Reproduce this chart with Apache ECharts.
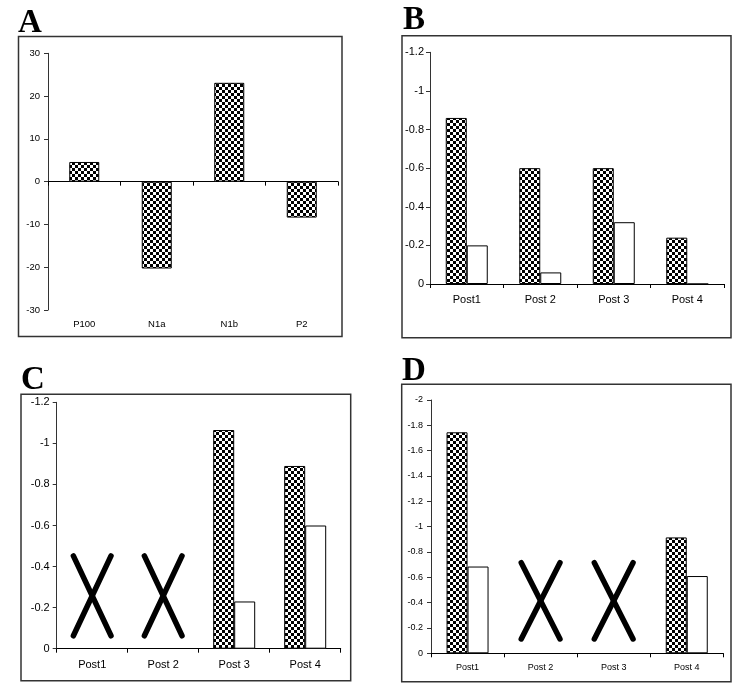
<!DOCTYPE html>
<html><head><meta charset="utf-8">
<script src="https://cdn.jsdelivr.net/npm/echarts@6/dist/echarts.min.js"></script>
<style>html,body{margin:0;padding:0;background:#fff}#c{width:740px;height:690px}</style>
</head><body><div id="c"></div>
<script>
// ---- data ----
const catsA = ['P100', 'N1a', 'N1b', 'P2'];
const valsA = [4.6, -20.3, 23.1, -8.4];
const catsB = ['Post1', 'Post 2', 'Post 3', 'Post 4'];
const catsC = ['Post1', 'Post 2', 'Post 3', 'Post 4'];
const catsD = ['Post1', 'Post 2', 'Post 3', 'Post 4'];
const hatchB = [-0.86, -0.6, -0.6, -0.24];
const whiteB = [-0.2, -0.06, -0.32, 0];
const hatchC = ['-', '-', -1.065, -0.89];
const whiteC = ['-', '-', -0.23, -0.6];
const crossC = [[0, -0.063, -0.452], [1, -0.063, -0.452]];   // [category, low, high]
const hatchD = [-1.745, '-', '-', -0.915];
const whiteD = [-0.685, '-', '-', -0.61];
const crossD = [[1, -0.113, -0.715], [2, -0.113, -0.715]];
const panelLetters = ['A', 'B', 'C', 'D'];

// ---- checkered pattern ----
function checker() {
  const c = document.createElement('canvas');
  c.width = 6; c.height = 6;
  const g = c.getContext('2d');
  g.fillStyle = '#fff'; g.fillRect(0, 0, 6, 6);
  g.fillStyle = '#000'; g.fillRect(0, 0, 3, 3); g.fillRect(3, 3, 3, 3);
  return c;
}
const hatchFill = { image: checker(), repeat: 'repeat' };

const FONT = 'Liberation Sans';
const grids = [
  { left: 48, top: 53.3, width: 290, height: 256.7 },
  { left: 430, top: 52.3, width: 294, height: 231.7 },
  { left: 56.7, top: 402.3, width: 284, height: 246.4 },
  { left: 431, top: 400, width: 292.3, height: 253.3 }
];
const fs = [9.5, 11, 11, 9];

function catAxis(i, data, margin) {
  return {
    type: 'category', gridIndex: i, data: data,
    axisLine: { onZero: false, lineStyle: { color: '#000', width: 1 } },
    axisTick: { show: true, length: 4, lineStyle: { color: '#000' } },
    axisLabel: { color: '#000', fontFamily: FONT, fontSize: fs[i], margin: margin },
    splitLine: { show: false }
  };
}
function valAxis(i, min, max, interval, inverse, margin) {
  return {
    type: 'value', gridIndex: i, min: min, max: max, interval: interval, inverse: inverse,
    axisLine: { show: true, lineStyle: { color: '#333', width: 1 } },
    axisTick: { show: true, length: 4, lineStyle: { color: '#333' } },
    axisLabel: { color: '#000', fontFamily: FONT, fontSize: fs[i], margin: margin },
    splitLine: { show: false }
  };
}

const xAxes = [
  Object.assign(catAxis(0, catsA, 8), { axisLine: { onZero: true, lineStyle: { color: '#000' } }, axisLabel: { show: false } }),
  catAxis(1, catsB, 10),
  catAxis(2, catsC, 11),
  catAxis(3, catsD, 10),
  { type: 'category', gridIndex: 0, data: catsA, position: 'bottom',
    axisLine: { show: false, onZero: false }, axisTick: { show: false },
    axisLabel: { color: '#000', fontFamily: FONT, fontSize: fs[0], margin: 9 } }
];
const yAxes = [
  valAxis(0, -30, 30, 10, false, 8),
  valAxis(1, -1.2, 0, 0.2, true, 6),
  valAxis(2, -1.2, 0, 0.2, true, 7),
  valAxis(3, -2, 0, 0.2, true, 8)
];

const hatchStyle = { color: hatchFill, borderColor: '#000', borderWidth: 1 };
const whiteStyle = { color: '#fff', borderColor: '#000', borderWidth: 1 };

function crossSeries(i, data) {
  return {
    type: 'custom', xAxisIndex: i, yAxisIndex: i, data: data, silent: true,
    renderItem: function (params, api) {
      const c = api.value(0);
      const lo = api.coord([c, api.value(1)]);
      const hi = api.coord([c, api.value(2)]);
      const half = api.size([1, 0])[0] * 0.265;
      const st = { stroke: '#000', lineWidth: 5.5, lineCap: 'round' };
      return { type: 'group', children: [
        { type: 'line', shape: { x1: lo[0] - half, y1: lo[1], x2: hi[0] + half, y2: hi[1] }, style: st },
        { type: 'line', shape: { x1: lo[0] + half, y1: lo[1], x2: hi[0] - half, y2: hi[1] }, style: st }
      ] };
    }
  };
}

const frames = [
  { x: 18.5, y: 36.5, w: 323.5, h: 300 },
  { x: 402, y: 35.7, w: 329, h: 302 },
  { x: 21, y: 394.3, w: 329.7, h: 286.4 },
  { x: 401.7, y: 384.3, w: 329.3, h: 297.4 }
];
const letterPos = [[18, 40], [403, 37], [21, 397], [402, 388]];

const graphic = [];
frames.forEach(f => graphic.push({ type: 'rect', shape: { x: f.x, y: f.y, width: f.w, height: f.h },
  style: { fill: 'none', stroke: '#333', lineWidth: 1.5 }, z: 10 }));
panelLetters.forEach((t, k) => graphic.push({ type: 'text', x: letterPos[k][0], y: letterPos[k][1],
  style: { text: t, font: 'bold 33px "Liberation Serif"', fill: '#000', textVerticalAlign: 'bottom', verticalAlign: 'bottom' }, z: 11 }));

const option = {
  animation: false,
  backgroundColor: '#fff',
  grid: grids,
  xAxis: xAxes,
  yAxis: yAxes,
  graphic: graphic,
  series: [
    { type: 'bar', xAxisIndex: 0, yAxisIndex: 0, data: valsA, barWidth: 30, itemStyle: hatchStyle },
    { type: 'bar', xAxisIndex: 1, yAxisIndex: 1, data: hatchB, barWidth: 21, barGap: '0%', itemStyle: hatchStyle },
    { type: 'bar', xAxisIndex: 1, yAxisIndex: 1, data: whiteB, barWidth: 21, barGap: '0%', itemStyle: whiteStyle },
    { type: 'bar', xAxisIndex: 2, yAxisIndex: 2, data: hatchC, barWidth: 21, barGap: '0%', itemStyle: hatchStyle },
    { type: 'bar', xAxisIndex: 2, yAxisIndex: 2, data: whiteC, barWidth: 21, barGap: '0%', itemStyle: whiteStyle },
    { type: 'bar', xAxisIndex: 3, yAxisIndex: 3, data: hatchD, barWidth: 21, barGap: '0%', itemStyle: hatchStyle },
    { type: 'bar', xAxisIndex: 3, yAxisIndex: 3, data: whiteD, barWidth: 21, barGap: '0%', itemStyle: whiteStyle },
    crossSeries(2, crossC),
    crossSeries(3, crossD)
  ]
};
const chart = echarts.init(document.getElementById('c'), null, { renderer: 'canvas' });
chart.setOption(option);
</script>
</body></html>
